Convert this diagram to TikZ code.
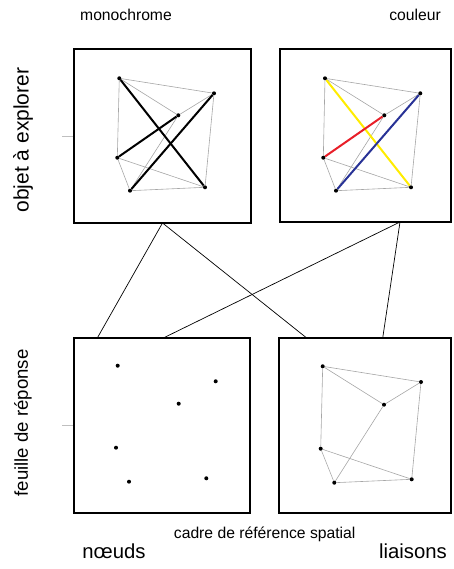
\documentclass[tikz,border=0pt]{standalone}
\usepackage{fontspec}
\setmainfont{Liberation Sans}
\pgfdeclarelayer{background}
\pgfsetlayers{background,main}
\definecolor{jaune}{RGB}{255,236,0}
\definecolor{rouge}{RGB}{232,30,40}
\definecolor{bleu}{RGB}{40,50,150}
\tikzset{
  cadre/.style={draw, line width=2.2pt, inner sep=0pt},
  dot/.style={inner sep=0pt, minimum size=4pt, circle, fill=black},
  fin/.style={gray!70, line width=0.6pt},
  fort/.style={line width=2pt},
  lien/.style={black, line width=0.7pt},
  repere/.style={gray!50, line width=0.6pt}
}
\begin{document}
\begin{tikzpicture}[x=1pt,y=-1pt]
\useasboundingbox (0,0) rectangle (453,569);

% les quatre cadres
\node[cadre, minimum width=177pt, minimum height=174pt] (obj1) at (162.5,136) {};
\node[cadre, minimum width=171pt, minimum height=173pt] (obj2) at (365.5,135.5) {};
\node[cadre, minimum width=176pt, minimum height=175pt] (rep1) at (162,425.5) {};
\node[cadre, minimum width=172pt, minimum height=175pt] (rep2) at (365,425.5) {};

% monochrome
\node[dot] (m1) at (119.3,78.3) {};
\node[dot] (m2) at (214,93.3) {};
\node[dot] (m3) at (178.3,115.3) {};
\node[dot] (m4) at (117.3,157.7) {};
\node[dot] (m5) at (130,190.7) {};
\node[dot] (m6) at (205,187.3) {};

% couleur
\node[dot] (c1) at (325,78.3) {};
\node[dot] (c2) at (420.3,93.3) {};
\node[dot] (c3) at (384.3,115.3) {};
\node[dot] (c4) at (323.3,157.7) {};
\node[dot] (c5) at (336,190.7) {};
\node[dot] (c6) at (411,187.3) {};

% noeuds
\node[dot] (n1) at (117.7,365.7) {};
\node[dot] (n2) at (215.7,381.3) {};
\node[dot] (n3) at (178.7,403.7) {};
\node[dot] (n4) at (116,447.7) {};
\node[dot] (n5) at (129,481.7) {};
\node[dot] (n6) at (206.3,478.3) {};

% liaisons
\node[dot] (l1) at (322.7,366.3) {};
\node[dot] (l2) at (421,382) {};
\node[dot] (l3) at (384,404.7) {};
\node[dot] (l4) at (320.7,448.7) {};
\node[dot] (l5) at (334.3,482.7) {};
\node[dot] (l6) at (411.7,479.3) {};

\begin{pgfonlayer}{background}
\foreach \g in {m,c,l}
  \foreach \a/\b in {1/2,1/3,1/4,3/2,2/6,3/5,4/5,4/6,5/6}
    \draw[fin] (\g\a) -- (\g\b);
\draw[fort] (m1) -- (m6);
\draw[fort] (m3) -- (m4);
\draw[fort] (m2) -- (m5);
\draw[fort, jaune] (c1) -- (c6);
\draw[fort, rouge] (c3) -- (c4);
\draw[fort, bleu] (c2) -- (c5);
\end{pgfonlayer}

% liens entre cadres
\coordinate (s1) at (162.5,223);
\coordinate (s2) at (400,222);
\coordinate (t1) at (97.3,338);
\coordinate (t2) at (163.3,338);
\coordinate (t3) at (306.7,338);
\coordinate (t4) at (382.7,338);
\draw[lien] (s1) -- (t1);
\draw[lien] (s1) -- (t3);
\draw[lien] (s2) -- (t2);
\draw[lien] (s2) -- (t4);

% reperes
\coordinate (r1) at (62,136);
\coordinate (r2) at (62,425.5);
\draw[repere] (r1) -- (obj1.west |- r1);
\draw[repere] (r2) -- (rep1.west |- r2);

% textes
\node[font=\fontsize{15.7}{18}\selectfont] (mono) at (126,15) {monochrome};
\node[font=\fontsize{15.7}{18}\selectfont] (coul) at (415,15) {couleur};
\node[font=\fontsize{21}{24}\selectfont, rotate=90] (objet) at (23,140) {objet à explorer};
\node[font=\fontsize{18.6}{22}\selectfont, rotate=90] (feuille) at (23,423) {feuille de réponse};
\node[font=\fontsize{15.7}{18}\selectfont] (spatial) at (264.7,534) {cadre de référence spatial};
\node[font=\fontsize{20.3}{24}\selectfont] (noeuds) at (114,551) {nœuds};
\node[font=\fontsize{20.3}{24}\selectfont] (liaisons) at (413,551) {liaisons};
\end{tikzpicture}
\end{document}
